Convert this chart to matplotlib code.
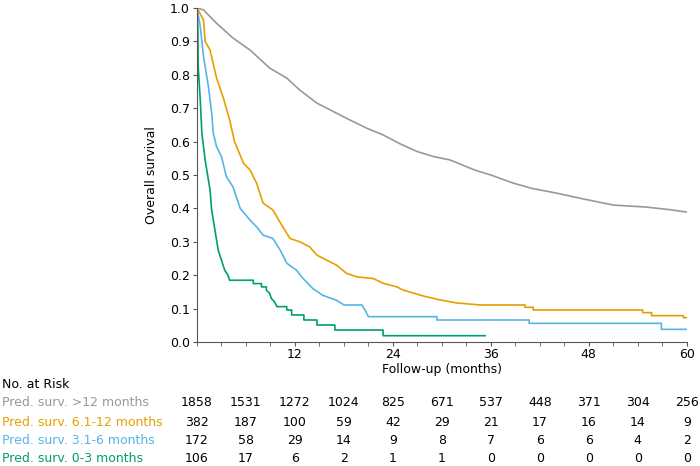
import numpy as np
import matplotlib
matplotlib.use("Agg")
import matplotlib.pyplot as plt
from matplotlib.transforms import blended_transform_factory
from matplotlib.ticker import MultipleLocator

# Kaplan-Meier curve vertices (months, survival)
# a repeated time marks a vertical drop
t_gt12 = [0, 0.8, 2.4, 4.4, 6.5, 8.9, 11, 12.6, 14.7, 16.7, 18.7, 20.8, 22.8, 24.9,
          27, 29, 31, 33, 34, 36, 38.7, 41, 44, 47, 51, 55, 58, 60]
s_gt12 = [1.0, 0.994, 0.954, 0.91, 0.874, 0.82, 0.79, 0.754, 0.715, 0.69, 0.665, 0.64,
          0.62, 0.593, 0.57, 0.555, 0.545, 0.525, 0.515, 0.5, 0.476, 0.46, 0.446, 0.43,
          0.41, 0.404, 0.396, 0.389]

t_6_12 = [0, 0.8, 1.0, 1.6, 2.4, 3.2, 4.0, 4.6, 5.7, 6.5, 7.3, 8.1, 9.3, 10.5, 11.4,
          12.6, 13.8, 14.7, 15.9, 17.1, 18.3, 19.6, 21.6, 22.8, 24.5, 25.2, 27.7,
          29.8, 31.8, 34.7, 40.2, 40.2, 41.2, 41.2, 54.6, 54.6, 55.7, 55.7, 59.6,
          59.6, 60]
s_6_12 = [1.0, 0.964, 0.9, 0.874, 0.79, 0.733, 0.665, 0.6, 0.535, 0.515, 0.476, 0.416,
          0.395, 0.345, 0.31, 0.3, 0.285, 0.26, 0.245, 0.23, 0.206, 0.195, 0.19, 0.176,
          0.165, 0.156, 0.138, 0.126, 0.117, 0.111, 0.111, 0.104, 0.104, 0.096, 0.096,
          0.088, 0.088, 0.079, 0.079, 0.073, 0.073]

t_3_6 = [0, 0.4, 0.8, 1.4, 1.8, 2.0, 2.4, 3.0, 3.6, 4.4, 5.3, 6.5, 7.3, 8.1, 9.3, 10.2,
         11.0, 12.2, 13.0, 14.2, 15.4, 17.1, 18.0, 20.2, 20.6, 21.0, 29.4, 29.4, 40.7,
         40.7, 56.9, 56.9, 60]
s_3_6 = [1.0, 0.944, 0.855, 0.765, 0.685, 0.625, 0.585, 0.555, 0.495, 0.465, 0.4, 0.365,
         0.345, 0.32, 0.31, 0.275, 0.236, 0.215, 0.19, 0.16, 0.14, 0.125, 0.111, 0.111,
         0.095, 0.076, 0.076, 0.066, 0.066, 0.056, 0.056, 0.038, 0.038]

t_0_3 = [0, 0.1, 0.15, 0.4, 0.6, 1.0, 1.2, 1.6, 1.8, 2.2, 2.6, 3.0, 3.4, 3.8, 4.0, 6.9,
         6.9, 7.9, 7.9, 8.5, 8.5, 8.9, 9.1, 9.5, 9.8, 11.0, 11.0, 11.6, 11.6, 13.1, 13.1,
         14.7, 14.7, 16.9, 16.9, 22.8, 22.8, 35.3]
s_0_3 = [1.0, 0.94, 0.824, 0.725, 0.625, 0.545, 0.515, 0.455, 0.395, 0.335, 0.275, 0.245,
         0.215, 0.2, 0.185, 0.185, 0.175, 0.175, 0.165, 0.165, 0.155, 0.146, 0.131, 0.12,
         0.106, 0.106, 0.096, 0.096, 0.081, 0.081, 0.066, 0.066, 0.051, 0.051, 0.036,
         0.036, 0.019, 0.019]

risk_times = [0, 6, 12, 18, 24, 30, 36, 42, 48, 54, 60]
risk_gt12 = [1858, 1531, 1272, 1024, 825, 671, 537, 448, 371, 304, 256]
risk_6_12 = [382, 187, 100, 59, 42, 29, 21, 17, 16, 14, 9]
risk_3_6 = [172, 58, 29, 14, 9, 8, 7, 6, 6, 4, 2]
risk_0_3 = [106, 17, 6, 2, 1, 1, 0, 0, 0, 0, 0]

labels = ["Pred. surv. >12 months", "Pred. surv. 6.1-12 months",
          "Pred. surv. 3.1-6 months", "Pred. surv. 0-3 months"]
colors = ["#999999", "#E69F00", "#56B4E9", "#009E73"]

fs = 9
fig = plt.figure(figsize=(7, 4.66), dpi=100)
ax = fig.add_axes([0.2814, 0.266, 0.981 - 0.2814, 0.983 - 0.266])

curves = [(t_gt12, s_gt12), (t_6_12, s_6_12), (t_3_6, s_3_6), (t_0_3, s_0_3)]
for (t, s), c in zip(curves, colors):
    ax.plot(t, s, color=c, lw=1.2)

ax.set_xlim(0, 60)
ax.set_ylim(0, 1)
ax.xaxis.set_minor_locator(MultipleLocator(3))
ax.set_xticks([12, 24, 36, 48, 60])
ax.set_yticks(np.arange(0, 1.01, 0.1))
ax.set_yticklabels([f"{v:.1f}" for v in np.arange(0, 1.01, 0.1)])
ax.tick_params(labelsize=fs, length=3, pad=2, color="#555555")
ax.tick_params(axis="x", pad=1)
ax.tick_params(which="minor", length=3, color="#555555")
for sp in ["top", "right"]:
    ax.spines[sp].set_visible(False)
for sp in ["left", "bottom"]:
    ax.spines[sp].set_color("#555555")
ax.set_xlabel("Follow-up (months)", fontsize=fs, labelpad=2)
ax.set_ylabel("Overall survival", fontsize=fs, labelpad=9)

# number at risk table
tr = blended_transform_factory(ax.transData, fig.transFigure)
fig.text(2 / 700, 1 - 385 / 466, "No. at Risk", fontsize=fs, va="center", ha="left")
rows = [risk_gt12, risk_6_12, risk_3_6, risk_0_3]
row_y = [403, 422, 440, 458]
for lab, row, c, yy in zip(labels, rows, colors, row_y):
    fy = 1 - yy / 466
    fig.text(2 / 700, fy, lab, color=c, fontsize=fs, va="center", ha="left")
    for t, n in zip(risk_times, row):
        ax.text(t, fy, str(n), transform=tr, fontsize=fs, va="center", ha="center",
                clip_on=False)

fig.savefig("out.png", dpi=100)
